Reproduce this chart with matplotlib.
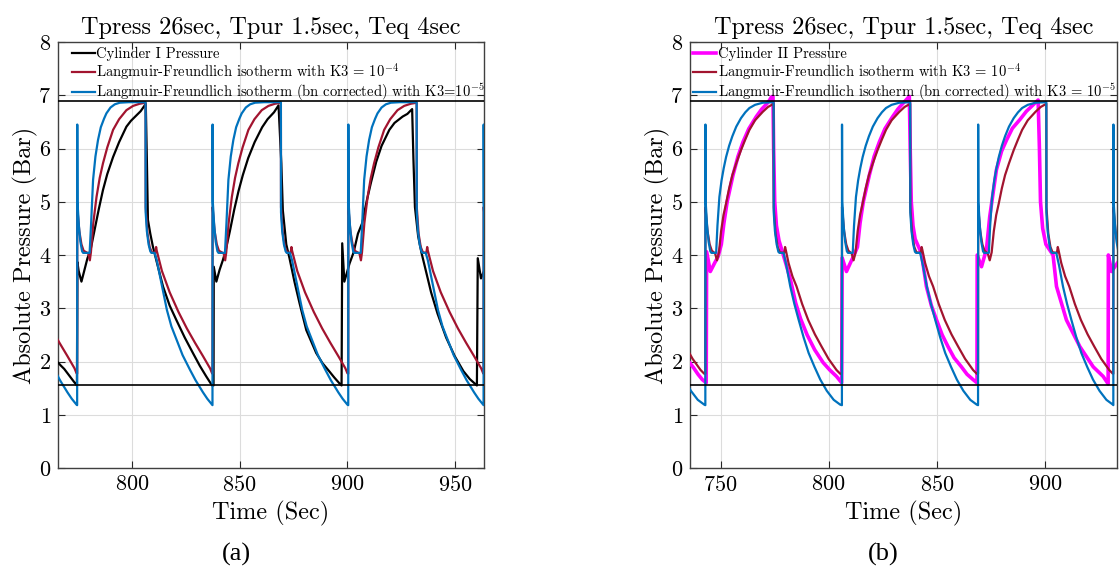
import numpy as np
import matplotlib
matplotlib.use("Agg")
import matplotlib.pyplot as plt
from matplotlib.lines import Line2D

plt.rcParams["font.family"] = "cmr10"
plt.rcParams["mathtext.fontset"] = "cm"
plt.rcParams["axes.formatter.use_mathtext"] = True

# ---------------------------------------------------------------- data
# feed-step start times of each cycle (s)
cycles_a = [711.5, 774.5, 837.4, 900.5, 963.4]
cycles_b = [680.0, 742.9, 806.1, 869.1, 931.7]

# one simulated cycle, time measured from the feed step (s) / pressure (bar)
blue_a_t = [0.0, 0.05, 0.15, 0.8, 1.5, 2.3, 2.8, 5.8, 6.5, 7.4, 8.5, 9.7, 11.0, 12.5, 13.6,
            15.5, 17.5, 19.8, 24.0, 31.8, 31.85, 32.4, 33.2, 34.0, 34.5, 36.0, 37.0, 38.6,
            40.0, 41.7, 43.8, 46.3, 49.0, 52.5, 55.0, 58.5, 60.5, 62.7]
blue_a_p = [1.18, 6.45, 5.0, 4.55, 4.25, 4.07, 4.04, 4.04, 4.6, 5.41, 5.85, 6.16, 6.40, 6.56, 6.66,
            6.77, 6.83, 6.86, 6.87, 6.87, 4.80, 4.45, 4.2, 4.07, 4.04, 4.04, 3.9, 3.58,
            3.3, 2.97, 2.66, 2.4, 2.12, 1.84, 1.65, 1.42, 1.3, 1.19]
red_a_t = [0.0, 0.05, 1.0, 2.0, 3.0, 5.2, 5.9, 6.4, 7.5, 9.0, 10.5, 12.0, 14.0, 16.7, 19.5,
           22.9, 26.0, 29.0, 31.8, 31.85, 32.7, 33.7, 34.7, 36.3, 36.7, 37.0, 39.4, 43.0,
           47.1, 51.0, 54.8, 58.5, 61.8, 62.7]
red_a_p = [1.77, 4.9, 4.45, 4.2, 4.08, 4.03, 3.9, 4.05, 4.6, 5.09, 5.45, 5.72, 6.02, 6.35, 6.55,
           6.72, 6.8, 6.84, 6.86, 4.9, 4.4, 4.15, 4.05, 4.04, 4.15, 4.08, 3.7, 3.3,
           2.93, 2.62, 2.35, 2.1, 1.87, 1.78]

blue_b_t = [0.0, 0.05, 0.15, 0.8, 1.5, 2.3, 2.8, 5.0, 5.6, 6.5, 7.5, 8.5, 9.6, 11.0, 12.5,
            14.3, 16.5, 18.5, 20.4, 23.0, 26.6, 31.6, 31.65, 32.2, 33.0, 33.8, 34.3, 36.2,
            37.5, 39.3, 41.2, 43.2, 45.5, 47.8, 50.5, 53.2, 56.2, 59.4, 62.4]
blue_b_p = [1.18, 6.45, 5.0, 4.55, 4.25, 4.07, 4.04, 4.04, 4.55, 5.09, 5.4, 5.63, 5.84, 6.05, 6.23,
            6.41, 6.57, 6.68, 6.76, 6.82, 6.86, 6.87, 4.8, 4.45, 4.2, 4.06, 4.04, 4.04,
            3.8, 3.41, 3.08, 2.78, 2.45, 2.16, 1.9, 1.66, 1.45, 1.28, 1.19]
red_b_t = [0.0, 0.05, 1.0, 2.0, 3.0, 4.5, 5.4, 6.3, 7.3, 8.4, 9.6, 11.0, 12.5, 14.3, 16.5,
           18.5, 20.4, 23.0, 26.6, 29.0, 31.6, 31.65, 32.5, 33.5, 34.5, 36.5, 36.9, 37.2,
           38.5, 40.3, 42.2, 44.8, 47.6, 50.7, 53.8, 57.0, 60.7, 62.4]
red_b_p = [1.77, 4.9, 4.45, 4.2, 4.08, 4.03, 3.9, 4.05, 4.45, 4.75, 4.97, 5.25, 5.5, 5.72, 5.97,
           6.17, 6.35, 6.53, 6.69, 6.78, 6.84, 4.9, 4.4, 4.15, 4.05, 4.04, 4.15, 4.1,
           3.85, 3.6, 3.41, 3.08, 2.78, 2.51, 2.28, 2.05, 1.84, 1.77]

# measured pressure, cylinder I (s, bar)
cyl1_t = [765.6, 767.0, 768.5, 770.0, 771.5, 773.0, 774.4,
          774.6, 775.2, 776.5, 777.9, 779.3, 780.7, 782.5, 784.5, 786.5, 788.5, 791.2, 794.0,
          797.4, 799.5, 802.0, 804.0, 805.9, 806.4,
          806.9, 807.4, 808.5, 809.7, 811.3, 814.4, 817.5, 820.6, 824.5, 828.3, 831.5, 834.5, 837.2,
          837.9, 838.0, 839.2, 840.7, 842.2, 843.5, 845.5, 847.5, 849.5, 851.5, 854.0, 857.0,
          860.5, 863.0, 866.0, 868.1,
          869.4, 870.1, 871.7, 873.2, 875.5, 877.9, 881.0, 885.6, 888.5, 891.8, 894.0, 896.4, 897.4,
          897.7, 898.7, 901.1, 903.0, 905.0, 907.0, 909.0, 911.0, 913.5, 916.0, 919.6, 922.0,
          925.8, 928.0, 929.7, 930.2,
          930.8, 931.5, 933.0, 934.5, 936.0, 939.0, 942.0, 946.0, 950.0, 954.0, 957.0, 960.3,
          960.7, 962.2, 963.6]
cyl1_p = [1.98, 1.92, 1.86, 1.78, 1.70, 1.62, 1.55,
          3.87, 3.70, 3.50, 3.72, 3.94, 4.09, 4.45, 4.85, 5.22, 5.52, 5.84, 6.12,
          6.41, 6.52, 6.62, 6.70, 6.81, 6.84,
          5.80, 4.66, 4.40, 4.16, 3.90, 3.41, 3.05, 2.78, 2.45, 2.16, 1.92, 1.72, 1.55,
          1.55, 3.78, 3.50, 3.72, 3.90, 4.08, 4.45, 4.85, 5.20, 5.50, 5.82, 6.12,
          6.40, 6.55, 6.68, 6.81,
          5.72, 4.84, 4.20, 3.94, 3.50, 3.09, 2.59, 2.16, 1.97, 1.81, 1.70, 1.59, 1.55,
          4.22, 3.50, 3.84, 4.05, 4.40, 4.60, 5.00, 5.35, 5.75, 6.05, 6.35, 6.48,
          6.60, 6.65, 6.72, 6.74,
          5.80, 4.90, 4.35, 4.05, 3.80, 3.30, 2.90, 2.45, 2.10, 1.82, 1.67, 1.55,
          3.94, 3.56, 3.70]

# measured pressure, cylinder II (s, bar)
cyl2_t = [735.8, 737.5, 739.5, 741.5, 743.3,
          743.5, 745.2, 747.2, 748.8, 750.3, 751.5, 753.0, 755.7, 758.0, 760.3, 763.0, 766.5,
          769.0, 771.1, 772.5, 773.5, 774.2,
          774.5, 775.0, 775.8, 777.0, 779.0, 781.0, 782.5, 784.7, 787.0, 790.0, 793.5, 797.4,
          800.5, 803.6, 806.0,
          806.2, 808.2, 810.0, 811.5, 813.3, 814.5, 816.0, 818.8, 821.0, 823.4, 826.0, 829.6,
          832.0, 834.2, 836.0, 837.3,
          837.7, 838.2, 839.0, 840.0, 842.9, 845.2, 847.5, 849.9, 852.5, 855.2, 858.0, 861.4,
          864.0, 866.8, 868.6,
          868.7, 870.7, 873.0, 874.5, 877.6, 880.0, 882.3, 885.0, 888.4, 891.5, 894.6, 896.9,
          897.5, 898.0, 899.0, 900.5, 903.8, 905.4, 910.0, 916.2, 922.4, 927.0, 929.3,
          929.4, 930.9, 933.6]
cyl2_p = [1.97, 1.88, 1.76, 1.66, 1.60,
          4.06, 3.69, 3.85, 3.97, 4.20, 4.60, 5.00, 5.50, 5.85, 6.12, 6.37, 6.60,
          6.74, 6.83, 6.90, 6.97, 6.98,
          6.00, 5.00, 4.55, 4.27, 4.00, 3.72, 3.50, 3.10, 2.80, 2.50, 2.22, 1.98,
          1.84, 1.72, 1.60,
          3.95, 3.69, 3.85, 3.98, 4.15, 4.60, 5.00, 5.50, 5.85, 6.12, 6.37, 6.60,
          6.74, 6.84, 6.92, 6.98,
          6.00, 5.00, 4.55, 4.30, 4.03, 3.41, 3.05, 2.78, 2.50, 2.28, 2.07, 1.90,
          1.76, 1.66, 1.60,
          4.00, 3.78, 4.11, 4.72, 5.60, 5.95, 6.16, 6.38, 6.54, 6.70, 6.82, 6.91,
          6.00, 5.00, 4.50, 4.20, 4.00, 3.41, 2.78, 2.28, 1.90, 1.72, 1.58,
          4.00, 3.69, 3.85]

upper_level = 6.9
lower_level = 1.55

x_ticks_a = [800, 850, 900, 950]
x_ticks_b = [750, 800, 850, 900]
y_ticks = [0, 1, 2, 3, 4, 5, 6, 7, 8]

title_text = "Tpress 26sec, Tpur 1.5sec, Teq 4sec"
labels_a = ["Cylinder I Pressure",
            r"Langmuir-Freundlich isotherm with K3 = $10^{-4}$",
            r"Langmuir-Freundlich isotherm (bn corrected) with K3=$10^{-5}$"]
labels_b = ["Cylinder II Pressure",
            r"Langmuir-Freundlich isotherm with K3 = $10^{-4}$",
            r"Langmuir-Freundlich isotherm (bn corrected) with K3 = $10^{-5}$"]

C_BLACK = "#000000"
C_MAG = "#FF00FF"
C_RED = "#A2142F"
C_BLUE = "#0072BD"


def tile(starts, rel_t, vals):
    """Repeat one simulated cycle at every feed-step start."""
    t, p = [], []
    for s in starts:
        t.extend(s + np.asarray(rel_t, dtype=float))
        p.extend(vals)
    return np.asarray(t), np.asarray(p)


def style_axes(ax, xlim, xticks, measured, meas_color, meas_lw, red, blue, labels, leg_x):
    ax.plot(*measured, color=meas_color, lw=meas_lw, zorder=3)
    ax.plot(*red, color=C_RED, lw=1.6, zorder=4)
    ax.plot(*blue, color=C_BLUE, lw=1.6, zorder=5)
    ax.axhline(upper_level, color="black", lw=1.2, zorder=6)
    ax.axhline(lower_level, color="black", lw=1.2, zorder=6)
    ax.set_xlim(*xlim)
    ax.set_ylim(0, 8)
    ax.set_xticks(xticks)
    ax.set_yticks(y_ticks)
    ax.grid(True, color="#dcdcdc", lw=0.8)
    ax.set_axisbelow(True)
    ax.tick_params(direction="in", top=True, right=True, length=5, width=0.8,
                   labelsize=16, colors="#262626", labelcolor="black", pad=5)
    for sp in ax.spines.values():
        sp.set_color("#404040")
        sp.set_linewidth(1.0)
    ax.set_xlabel("Time (Sec)", fontsize=17.5, labelpad=4)
    ax.set_ylabel("Absolute Pressure (Bar)", fontsize=17.5, labelpad=0)
    ax.set_title(title_text, fontsize=17.5, pad=6)
    handles = [Line2D([], [], color=meas_color, lw=meas_lw),
               Line2D([], [], color=C_RED, lw=1.6),
               Line2D([], [], color=C_BLUE, lw=1.6)]
    ax.legend(handles, labels, loc="upper left", bbox_to_anchor=(leg_x, 0.995),
              frameon=False, fontsize=10.5, handlelength=1.6, handletextpad=0.1,
              labelspacing=0.0, borderaxespad=0.0, borderpad=0.2)


fig = plt.figure(figsize=(11.19, 5.72), dpi=100)
ax_a = fig.add_axes([58 / 1119, 104 / 572, 426 / 1119, 426 / 572])
ax_b = fig.add_axes([690 / 1119, 104 / 572, 427 / 1119, 426 / 572])

style_axes(ax_a, (765.6, 963.6), x_ticks_a, (cyl1_t, cyl1_p), C_BLACK, 1.6,
           tile(cycles_a, red_a_t, red_a_p), tile(cycles_a, blue_a_t, blue_a_p),
           labels_a, 0.025)
style_axes(ax_b, (735.8, 933.4), x_ticks_b, (cyl2_t, cyl2_p), C_MAG, 2.6,
           tile(cycles_b, red_b_t, red_b_p), tile(cycles_b, blue_b_t, blue_b_p),
           labels_b, 0.0)

fig.text(236 / 1119, 1 - 554 / 572, "(a)", family="Liberation Serif", fontsize=19,
         ha="center", va="center")
fig.text(883 / 1119, 1 - 554 / 572, "(b)", family="Liberation Serif", fontsize=19,
         ha="center", va="center")

fig.savefig("out.png", dpi=100)
